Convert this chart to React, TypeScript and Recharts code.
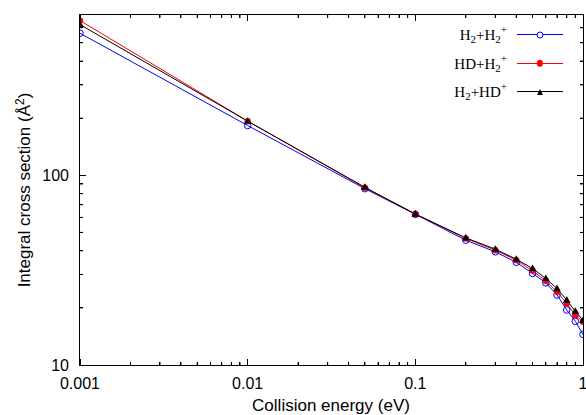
import { LineChart, Line, XAxis, YAxis, ReferenceLine } from "recharts";

const energy = [0.001, 0.01, 0.05, 0.1, 0.2, 0.3, 0.4, 0.5, 0.6, 0.7, 0.8, 0.9, 1.0];
const h2h2 = [561, 183, 85, 62.3, 45.5, 39.5, 34.8, 30.4, 27.1, 23.4, 19.5, 17.0, 14.5];
const hdh2 = [654, 193, 86, 62.5, 46.5, 40.3, 35.7, 31.4, 27.8, 24.3, 21.1, 18.3, 16.9];
const h2hd = [623, 193, 86.5, 62.5, 46.8, 40.8, 36.1, 32.3, 28.6, 25.3, 22.0, 19.2, 17.2];

const xMajor = [0.001, 0.01, 0.1, 1];
const xMajorLabels = ["0.001", "0.01", "0.1", "1"];
const yMajor = [10, 100];
const yMajorLabels = ["10", "100"];
const minorSteps = [2, 3, 4, 5, 6, 7, 8, 9];

const xMinor = xMajor.slice(0, -1).flatMap((d) => minorSteps.map((k) => +(d * k).toPrecision(3)));
const yMinor = [...minorSteps.map((k) => 10 * k), ...[2, 3, 4, 5, 6].map((k) => 100 * k)];

const xDomain = [0.001, 1];
const yDomain = [10, 700];

const data = energy.map((e, i) => ({ e, a: h2h2[i], b: hdh2[i], c: h2hd[i] }));

const W = 586;
const H = 415;
const margin = { top: 15, right: 3, bottom: 0, left: 0 };
const yAxisWidth = 80;
const xAxisHeight = 50;

const sans = "'Liberation Sans', Arial, sans-serif";
const serif = "'Liberation Serif', 'Times New Roman', serif";

const XTickLabel = (props: any) => {
  const { x, y, payload } = props;
  const idx = xMajor.indexOf(payload.value);
  if (idx < 0) return null;
  return (
    <text x={x} y={y + 23.5} textAnchor="middle" fontFamily={sans} fontSize={16} fill="#000">
      {xMajorLabels[idx]}
    </text>
  );
};

const YTickLabel = (props: any) => {
  const { x, y, payload } = props;
  const idx = yMajor.indexOf(payload.value);
  if (idx < 0) return null;
  return (
    <text x={x - 11} y={y + 6} textAnchor="end" fontFamily={sans} fontSize={16} fill="#000">
      {yMajorLabels[idx]}
    </text>
  );
};

const hTick = (len: number) => (p: any) => {
  const l = Math.min(p.x1, p.x2);
  const r = Math.max(p.x1, p.x2);
  return <path d={`M${l},${p.y1}h${len}M${r},${p.y1}h${-len}`} stroke="#000" strokeWidth={1} fill="none" />;
};

const vTick = (len: number) => (p: any) => {
  const t = Math.min(p.y1, p.y2);
  const b = Math.max(p.y1, p.y2);
  return <path d={`M${p.x1},${b}v${-len}M${p.x1},${t}v${len}`} stroke="#000" strokeWidth={1} fill="none" />;
};

// frame + inward ticks as plain html, same log mapping as the chart's axes
const plotL = margin.left + yAxisWidth;
const plotR = W - margin.right;
const plotT = margin.top;
const plotB = H - margin.bottom - xAxisHeight;
const lx = (v: number) =>
  plotL + ((Math.log10(v) - Math.log10(xDomain[0])) / (Math.log10(xDomain[1]) - Math.log10(xDomain[0]))) * (plotR - plotL);
const ly = (v: number) =>
  plotB - ((Math.log10(v) - Math.log10(yDomain[0])) / (Math.log10(yDomain[1]) - Math.log10(yDomain[0]))) * (plotB - plotT);

const bar = (left: number, top: number, w: number, h: number, key: string) => (
  <div key={key} style={{ position: "absolute", left, top, width: w, height: h, background: "#000" }} />
);

const FrameHtml = () => {
  const items: any[] = [];
  const xs = [...xMajor.map((v) => [v, 6]), ...xMinor.map((v) => [v, 3])];
  const ys = [...yMajor.map((v) => [v, 6]), ...yMinor.map((v) => [v, 3])];
  xs.forEach(([v, len], i) => {
    items.push(bar(lx(v) - 0.5, plotB - len, 1, len, `xb${i}`));
    items.push(bar(lx(v) - 0.5, plotT, 1, len, `xt${i}`));
  });
  ys.forEach(([v, len], i) => {
    items.push(bar(plotL, ly(v) - 0.5, len, 1, `yl${i}`));
    items.push(bar(plotR - len, ly(v) - 0.5, len, 1, `yr${i}`));
  });
  return (
    <div style={{ position: "absolute", left: 0, top: 0, width: W, height: H, pointerEvents: "none", zIndex: 5 }}>
      <div
        style={{
          position: "absolute",
          left: plotL - 0.75,
          top: plotT - 0.75,
          width: plotR - plotL + 1.5,
          height: plotB - plotT + 1.5,
          border: "1.5px solid #000",
          boxSizing: "border-box",
        }}
      />
      {items}
    </div>
  );
};

const OpenCircle = (props: any) => {
  const { cx, cy } = props;
  if (cx == null || cy == null) return null;
  return <circle cx={cx} cy={cy} r={3.3} fill="none" stroke="#0000ff" strokeWidth={1} />;
};

const FilledCircle = (props: any) => {
  const { cx, cy } = props;
  if (cx == null || cy == null) return null;
  return <circle cx={cx} cy={cy} r={3.2} fill="#ff0000" />;
};

const Triangle = (props: any) => {
  const { cx, cy } = props;
  if (cx == null || cy == null) return null;
  return <path d={`M${cx},${cy - 4}L${cx + 3.8},${cy + 2.6}L${cx - 3.8},${cy + 2.6}Z`} fill="#000" />;
};

const Sub = ({ children }: { children: string }) => (
  <sub style={{ fontSize: 11, verticalAlign: -3 }}>{children}</sub>
);
const Sup = ({ children }: { children: string }) => (
  <sup style={{ fontSize: 11, verticalAlign: 7 }}>{children}</sup>
);

const markerStyle: Record<string, any> = {
  circle: { width: 5, height: 5, border: "1px solid #0000ff", borderRadius: "50%", background: "#fff" },
  dot: { width: 6.4, height: 6.4, borderRadius: "50%", background: "#ff0000" },
  tri: {
    width: 0,
    height: 0,
    borderLeft: "3.8px solid transparent",
    borderRight: "3.8px solid transparent",
    borderBottom: "6.6px solid #000",
  },
};

const legendRows = [
  {
    label: (
      <>
        H<Sub>2</Sub>+H<Sub>2</Sub>
        <Sup>+</Sup>
      </>
    ),
    color: "#0000ff",
    marker: "circle",
  },
  {
    label: (
      <>
        HD+H<Sub>2</Sub>
        <Sup>+</Sup>
      </>
    ),
    color: "#ff0000",
    marker: "dot",
  },
  {
    label: (
      <>
        H<Sub>2</Sub>+HD<Sup>+</Sup>
      </>
    ),
    color: "#000",
    marker: "tri",
  },
];

const LegendBox = () => (
  <div style={{ position: "absolute", left: 410, top: 20, fontFamily: serif, fontSize: 15, color: "#000", zIndex: 6 }}>
    {legendRows.map((r, i) => (
      <div key={i} style={{ display: "flex", alignItems: "center", height: 28.5 }}>
        <div style={{ width: 97, textAlign: "right", whiteSpace: "nowrap" }}>{r.label}</div>
        <div style={{ position: "relative", marginLeft: 10, width: 46, height: 14 }}>
          <div style={{ position: "absolute", left: 0, top: 7, width: 46, height: 1, background: r.color }} />
          <div
            style={{
              position: "absolute",
              left: 23,
              top: 7.5,
              transform: "translate(-50%, -50%)",
              ...markerStyle[r.marker],
            }}
          />
        </div>
      </div>
    ))}
  </div>
);

const YTitle = () => (
  <div
    style={{
      position: "absolute",
      left: 20 - 150,
      top: 190 - 10,
      width: 300,
      height: 20,
      lineHeight: "20px",
      textAlign: "center",
      transform: "rotate(-90deg)",
      fontFamily: sans,
      fontSize: 17,
      color: "#000",
      whiteSpace: "nowrap",
    }}
  >
    Integral cross section (Å<sup style={{ fontSize: 12, verticalAlign: 6 }}>2</sup>)
  </div>
);

const XTitle = () => (
  <div
    style={{
      position: "absolute",
      left: 331 - 150,
      top: 396,
      width: 300,
      lineHeight: "20px",
      textAlign: "center",
      fontFamily: sans,
      fontSize: 17,
      color: "#000",
    }}
  >
    Collision energy (eV)
  </div>
);

export default function App() {
  return (
    <div style={{ position: "absolute", left: 0, top: 0, width: W, height: H }}>
      <LineChart width={W} height={H} data={data} margin={margin}>
        <XAxis
          dataKey="e"
          type="number"
          scale="log"
          domain={xDomain}
          allowDataOverflow
          ticks={xMajor}
          interval={0}
          tickSize={0}
          tickMargin={0}
          tickLine={false}
          axisLine={false}
          tick={<XTickLabel />}
          height={xAxisHeight}
        />
        <YAxis
          type="number"
          scale="log"
          domain={yDomain}
          allowDataOverflow
          ticks={yMajor}
          interval={0}
          tickSize={0}
          tickMargin={0}
          tickLine={false}
          axisLine={false}
          tick={<YTickLabel />}
          width={yAxisWidth}
        />
        {yMinor.map((v) => (
          <ReferenceLine key={`yn${v}`} y={v} shape={hTick(3)} />
        ))}
        {xMinor.map((v) => (
          <ReferenceLine key={`xn${v}`} x={v} shape={vTick(3)} />
        ))}
        <Line dataKey="a" stroke="#0000ff" strokeWidth={1} dot={<OpenCircle />} activeDot={false} isAnimationActive={false} />
        <Line dataKey="b" stroke="#ff0000" strokeWidth={1} dot={<FilledCircle />} activeDot={false} isAnimationActive={false} />
        <Line dataKey="c" stroke="#000" strokeWidth={1} dot={<Triangle />} activeDot={false} isAnimationActive={false} />
      </LineChart>
      <FrameHtml />
      <YTitle />
      <XTitle />
      <LegendBox />
    </div>
  );
}
